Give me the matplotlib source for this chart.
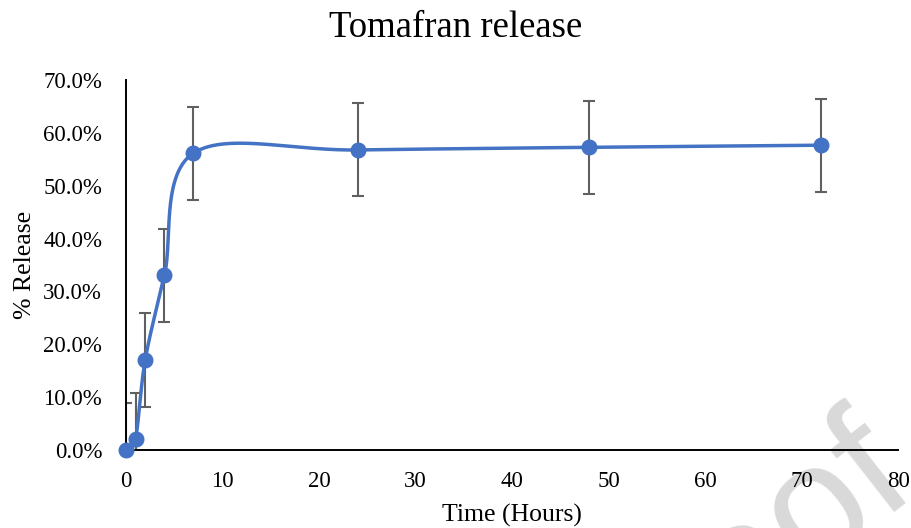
import matplotlib.pyplot as plt
import numpy as np
from matplotlib.ticker import PercentFormatter

# Release data (time in hours, fraction released, error)
hours = [0, 1, 2, 4, 7, 24, 48, 72]
release = [0.000, 0.021, 0.170, 0.331, 0.562, 0.568, 0.573, 0.577]
err = [0.089, 0.087, 0.089, 0.088, 0.088, 0.088, 0.088, 0.088]

x_ticks = [0, 10, 20, 30, 40, 50, 60, 70, 80]
y_ticks = [0.0, 0.1, 0.2, 0.3, 0.4, 0.5, 0.6, 0.7]

blue = '#4472C4'
grey = '#606060'


def smooth_curve(xs, ys, n=60):
    # Bezier smoothing through every point, like a spreadsheet "smoothed line"
    p = np.column_stack([xs, ys]).astype(float)
    out = []
    for i in range(len(p) - 1):
        p0 = p[i - 1] if i > 0 else p[i]
        p1 = p[i]
        p2 = p[i + 1]
        p3 = p[i + 2] if i + 2 < len(p) else p[i + 1]
        c1 = p1 + (p2 - p0) / 6
        c2 = p2 - (p3 - p1) / 6
        t = np.linspace(0, 1, n)[:, None]
        seg = ((1 - t) ** 3 * p1 + 3 * (1 - t) ** 2 * t * c1
               + 3 * (1 - t) * t ** 2 * c2 + t ** 3 * p2)
        out.append(seg if i == 0 else seg[1:])
    out = np.vstack(out)
    return out[:, 0], out[:, 1]


plt.rcParams['font.family'] = ['Liberation Serif', 'DejaVu Serif']

fig = plt.figure(figsize=(9.12, 5.28), dpi=100)
ax = fig.add_axes([0.138, 0.148, 0.847, 0.70])
ax.patch.set_alpha(0)
ax.set_zorder(2)

# Error bars
ax.errorbar(hours, release, yerr=err, fmt='none', ecolor=grey,
            elinewidth=1.5, capsize=4.5, capthick=1.5, zorder=2)

# Smoothed line and markers
sx, sy = smooth_curve(hours, release)
ax.plot(sx, sy, color=blue, linewidth=2.5, zorder=3)
ax.plot(hours, release, 'o', color=blue, markersize=10.5, zorder=4, clip_on=False)

ax.set_xlim(0, 80)
ax.set_ylim(0, 0.7)
ax.set_xticks(x_ticks)
ax.set_yticks(y_ticks)
ax.yaxis.set_major_formatter(PercentFormatter(1.0, decimals=1))
ax.tick_params(length=0, labelsize=16.5)
ax.tick_params(axis='y', pad=17)
ax.tick_params(axis='x', pad=15)

for s in ['top', 'right']:
    ax.spines[s].set_visible(False)
for s in ['left', 'bottom']:
    ax.spines[s].set_color('black')
    ax.spines[s].set_linewidth(1.4)

# Titles
fig.text(0.5, 0.93, 'Tomafran release', fontsize=26.5, ha='center', va='baseline')
fig.text(0.561, 0.012, 'Time (Hours)', fontsize=18.5, ha='center', va='baseline')
fig.text(0.027, 0.498, '% Release', fontsize=18.5, rotation=90,
         ha='center', va='center')

# Watermark in the bottom corner, under the axes
fig.text(1.005, 0.085, 'Proof', fontsize=120, family='Liberation Sans',
         color='#d9d9d9', rotation=38, rotation_mode='anchor',
         ha='right', va='baseline', zorder=0)

fig.savefig('out.png', dpi=100)
